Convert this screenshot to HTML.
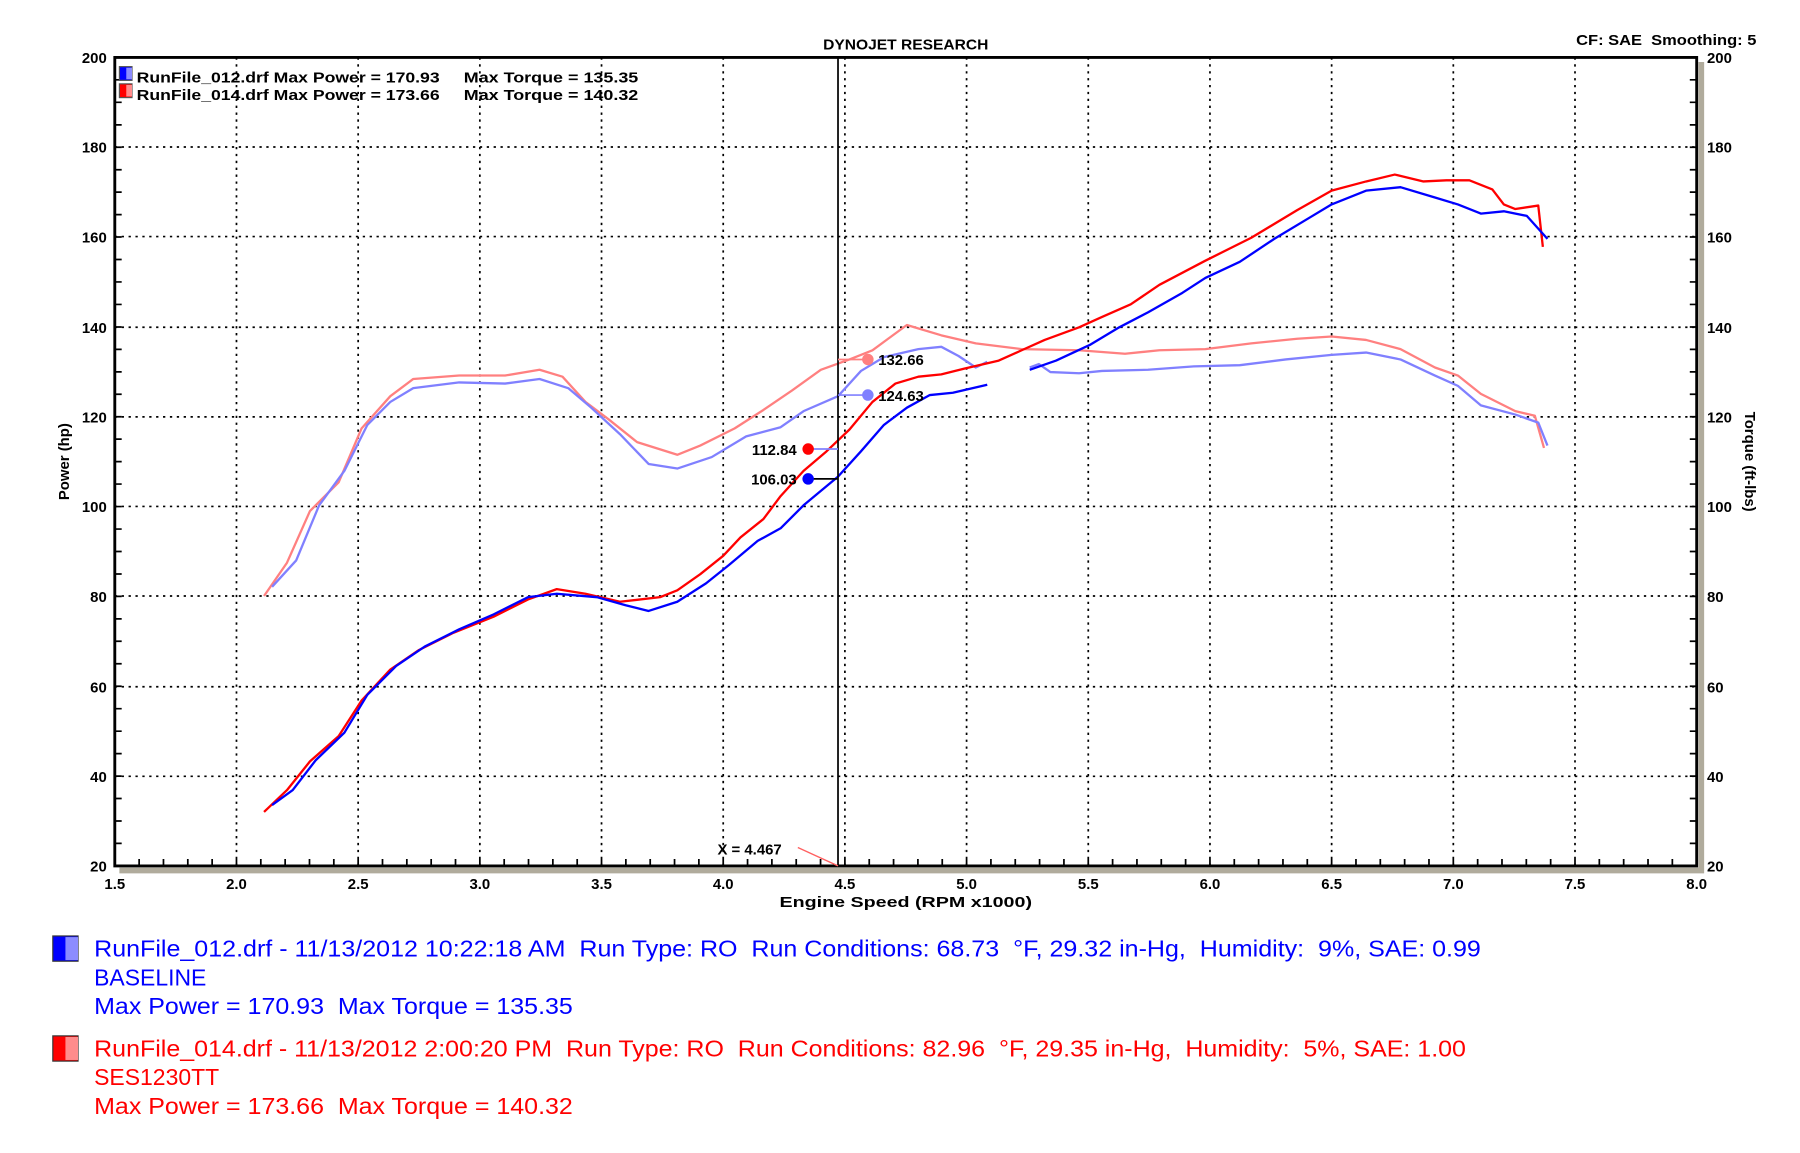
<!DOCTYPE html>
<html><head><meta charset="utf-8"><style>
html,body{margin:0;padding:0;background:#fff;}
svg{display:block;font-family:"Liberation Sans",sans-serif;}
text{white-space:pre;}
.b{font-weight:bold;font-size:13px;fill:#000}
</style></head><body>
<svg width="1800" height="1153" viewBox="0 0 1568 1004" preserveAspectRatio="none" xmlns="http://www.w3.org/2000/svg" xml:space="preserve">
<rect width="1568" height="1004" fill="#fff"/>
<path d="M104,758 H1482 V54" fill="none" stroke="#b0ab9c" stroke-width="5"/>
<g stroke="#000" stroke-width="1.5" stroke-dasharray="2,4" fill="none">
<path d="M206,50V754M312,50V754M418,50V754M524,50V754M630,50V754M736,50V754M842,50V754M948,50V754M1054,50V754M1160,50V754M1266,50V754M1372,50V754"/>
<path d="M100,128H1478M100,206H1478M100,285H1478M100,363H1478M100,441H1478M100,519H1478M100,598H1478M100,676H1478"/>
</g>
<path d="M100,50H1478V754H100Z" fill="none" stroke="#000" stroke-width="2.5"/>
<g stroke="#000" stroke-width="1.5"><path id="xt" d=""/></g>
<g class="b" text-anchor="end">
<text x="93" y="55">200</text><text x="93" y="133">180</text><text x="93" y="211">160</text><text x="93" y="290">140</text><text x="93" y="368">120</text><text x="93" y="446">100</text><text x="93" y="524">80</text><text x="93" y="603">60</text><text x="93" y="681">40</text><text x="93" y="759">20</text>
</g>
<g class="b">
<text x="1487" y="55">200</text><text x="1487" y="133">180</text><text x="1487" y="211">160</text><text x="1487" y="290">140</text><text x="1487" y="368">120</text><text x="1487" y="446">100</text><text x="1487" y="524">80</text><text x="1487" y="603">60</text><text x="1487" y="681">40</text><text x="1487" y="759">20</text>
</g>
<g class="b" text-anchor="middle">
<text x="100" y="774">1.5</text><text x="206" y="774">2.0</text><text x="312" y="774">2.5</text><text x="418" y="774">3.0</text><text x="524" y="774">3.5</text><text x="630" y="774">4.0</text><text x="736" y="774">4.5</text><text x="842" y="774">5.0</text><text x="948" y="774">5.5</text><text x="1054" y="774">6.0</text><text x="1160" y="774">6.5</text><text x="1266" y="774">7.0</text><text x="1372" y="774">7.5</text><text x="1478" y="774">8.0</text>
</g>
<text class="b" x="679" y="790" font-size="14" textLength="220" lengthAdjust="spacingAndGlyphs">Engine Speed (RPM x1000)</text>
<text class="b" x="717" y="43" textLength="144" lengthAdjust="spacingAndGlyphs">DYNOJET RESEARCH</text>
<text class="b" x="1373" y="39" textLength="157" lengthAdjust="spacingAndGlyphs">CF: SAE  Smoothing: 5</text>
<text class="b" font-size="14" transform="translate(60,402) rotate(-90)" text-anchor="middle">Power (hp)</text>
<text class="b" font-size="14" transform="translate(1520,402) rotate(90)" text-anchor="middle">Torque (ft-lbs)</text>
<rect x="104" y="58" width="11" height="12" fill="#0000ff" stroke="#555"/><rect x="110" y="59" width="5" height="10" fill="#8c8cff"/>
<rect x="104" y="73" width="11" height="12" fill="#ff0000" stroke="#555"/><rect x="110" y="74" width="5" height="10" fill="#ff8c8c"/>
<text class="b" x="119" y="72" textLength="264" lengthAdjust="spacingAndGlyphs">RunFile_012.drf Max Power = 170.93</text><text class="b" x="404" y="72" textLength="152" lengthAdjust="spacingAndGlyphs">Max Torque = 135.35</text>
<text class="b" x="119" y="87" textLength="264" lengthAdjust="spacingAndGlyphs">RunFile_014.drf Max Power = 173.66</text><text class="b" x="404" y="87" textLength="152" lengthAdjust="spacingAndGlyphs">Max Torque = 140.32</text>
<g fill="none" stroke-width="2" stroke-linejoin="round">
<polyline stroke="#ff8080" points="230,519 250,490 270,445 295,420 315,373 340,345 360,330 400,327 440,327 470,322 490,328 510,350 530,365 555,385 590,396 610,388 640,373 665,357 690,340 715,322 740,313 760,305 790,283 820,292 850,299 890,304 940,305 980,308 1010,305 1050,304 1090,299 1130,295 1160,293 1190,296 1220,304 1250,320 1270,327 1290,343 1320,358 1337,362 1345,390"/>
<polyline stroke="#8080ff" points="237,511 258,488 278,440 300,410 320,370 340,350 360,338 400,333 440,334 470,330 495,338 515,355 540,378 565,404 590,408 620,398 650,380 680,372 700,358 730,345 750,323 770,311 800,304 820,302 835,310 850,320 860,315"/>
<polyline stroke="#8080ff" points="897,320 905,317 915,324 940,325 960,323 1000,322 1040,319 1080,318 1120,313 1160,309 1190,307 1220,313 1250,327 1270,336 1290,353 1320,361 1340,368 1348,388"/>
<polyline stroke="#ff0000" points="230,707 250,688 270,663 295,641 315,610 340,583 365,566 395,551 430,537 460,522 485,513 510,517 540,524 575,520 590,514 610,500 630,484 645,468 665,452 680,432 700,410 720,393 740,374 760,350 780,334 800,328 820,326 840,321 870,314 890,305 910,296 940,285 960,276 985,265 1010,248 1050,227 1090,207 1130,183 1160,166 1190,158 1215,152 1240,158 1260,157 1280,157 1300,165 1310,178 1320,182 1340,179 1344,215"/>
<polyline stroke="#0000ff" points="237,701 255,688 275,662 300,638 320,605 345,580 370,563 400,548 430,535 460,520 485,517 520,520 545,527 565,532 590,524 615,508 635,492 660,471 680,460 700,440 730,415 750,393 770,370 790,355 810,344 830,342 860,335"/>
<polyline stroke="#0000ff" points="897,322 920,314 950,300 975,285 1000,272 1030,255 1050,242 1080,228 1110,208 1140,190 1160,178 1190,166 1220,163 1250,172 1270,178 1290,186 1310,184 1330,188 1348,208"/>
</g>
<line x1="730" y1="50" x2="730" y2="754" stroke="#000" stroke-width="1.5"/>
<line x1="695" y1="738" x2="730" y2="754" stroke="#ff6060" stroke-width="1.2"/>
<text class="b" x="625" y="744">X = 4.467</text>
<g stroke-width="1.5">
<line x1="704" y1="391" x2="730" y2="391" stroke="#8080ff"/>
<line x1="704" y1="417" x2="730" y2="417" stroke="#000"/>
<line x1="730" y1="313" x2="756" y2="313" stroke="#ff8080"/>
<line x1="730" y1="344" x2="756" y2="344" stroke="#8080ff"/>
</g>
<circle cx="704" cy="391" r="5" fill="#ff0000"/><circle cx="704" cy="417" r="5" fill="#0000ff"/>
<circle cx="756" cy="313" r="5" fill="#ff8080"/><circle cx="756" cy="344" r="5" fill="#8080ff"/>
<text class="b" x="694" y="396" text-anchor="end">112.84</text>
<text class="b" x="694" y="422" text-anchor="end">106.03</text>
<text class="b" x="765" y="318">132.66</text>
<text class="b" x="765" y="349">124.63</text>
<rect x="46" y="815" width="22" height="22" fill="#0000ff" stroke="#333"/><rect x="57" y="816" width="11" height="20" fill="#8c8cff"/>
<rect x="46" y="902" width="22" height="22" fill="#ff0000" stroke="#333"/><rect x="57" y="903" width="11" height="20" fill="#ff8c8c"/>
<g font-size="20">
<text x="82" y="833" fill="#0000ff" textLength="1208" lengthAdjust="spacingAndGlyphs">RunFile_012.drf - 11/13/2012 10:22:18 AM  Run Type: RO  Run Conditions: 68.73  °F, 29.32 in-Hg,  Humidity:  9%, SAE: 0.99</text>
<text x="82" y="858" fill="#0000ff">BASELINE</text>
<text x="82" y="883" fill="#0000ff" textLength="417" lengthAdjust="spacingAndGlyphs">Max Power = 170.93  Max Torque = 135.35</text>
<text x="82" y="920" fill="#ff0000" textLength="1195" lengthAdjust="spacingAndGlyphs">RunFile_014.drf - 11/13/2012 2:00:20 PM  Run Type: RO  Run Conditions: 82.96  °F, 29.35 in-Hg,  Humidity:  5%, SAE: 1.00</text>
<text x="82" y="945" fill="#ff0000">SES1230TT</text>
<text x="82" y="970" fill="#ff0000" textLength="417" lengthAdjust="spacingAndGlyphs">Max Power = 173.66  Max Torque = 140.32</text>
</g>
<script>
(function(){var d="";for(var i=1;i<65;i++){var x=100+i*21.2;d+="M"+x.toFixed(1)+",754v-6";}
for(var j=1;j<36;j++){var y=754-j*19.556;d+="M100,"+y.toFixed(1)+"h6M1478,"+y.toFixed(1)+"h-6";}
document.getElementById("xt").setAttribute("d",d);})();
</script>
</svg>
</body></html>
